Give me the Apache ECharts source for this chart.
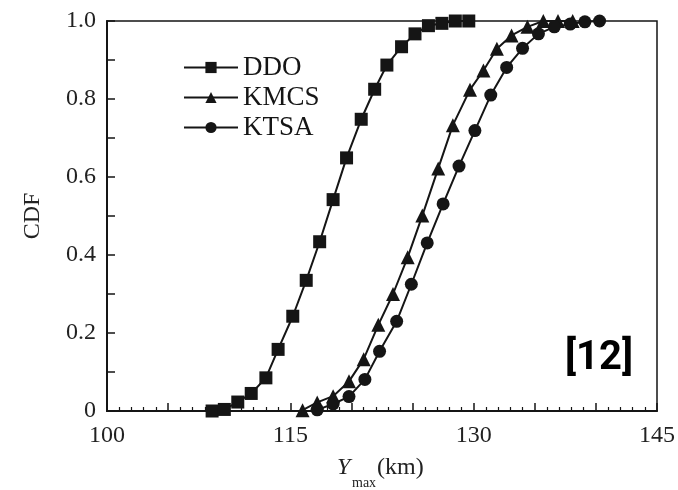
<!DOCTYPE html>
<html>
<head>
<meta charset="utf-8">
<script src="https://cdn.jsdelivr.net/npm/echarts@6/dist/echarts.min.js"></script>
<style>
html,body{margin:0;padding:0;background:#fff;}
#chart{width:678px;height:490px;}
</style>
</head>
<body>
<div id="chart"></div>
<script>
// ---- data ----
const seriesNames = ['DDO', 'KMCS', 'KTSA'];

const ddoX = [108.6,109.6,110.7,111.8,113.0,114.0,115.2,116.3,117.4,118.5,119.6,120.8,121.9,122.9,124.1,125.2,126.3,127.4,128.5,129.6];
const ddoY = [0.0,0.004,0.023,0.045,0.085,0.158,0.243,0.335,0.434,0.542,0.649,0.748,0.825,0.887,0.934,0.967,0.988,0.994,1.0,1.0];

const kmcsX = [116.0,117.2,118.5,119.8,121.0,122.2,123.4,124.6,125.8,127.1,128.3,129.7,130.8,131.9,133.1,134.4,135.7,136.9,138.1];
const kmcsY = [0.002,0.022,0.038,0.076,0.133,0.221,0.300,0.394,0.501,0.622,0.733,0.824,0.873,0.929,0.963,0.985,1.0,1.0,1.0];

const ktsaX = [117.2,118.5,119.8,121.1,122.3,123.7,124.9,126.2,127.5,128.8,130.1,131.4,132.7,134.0,135.3,136.6,137.9,139.1,140.3];
const ktsaY = [0.003,0.018,0.037,0.081,0.153,0.230,0.325,0.431,0.531,0.628,0.719,0.810,0.881,0.930,0.967,0.985,0.992,0.998,1.0];

const xLabelValues = [100, 115, 130, 145];
const yLabelValues = [0, 0.2, 0.4, 0.6, 0.8, 1.0];

// ---- chart ----
const serif = '"Liberation Serif", "DejaVu Serif", serif';
const ink = '#151515';
const pair = (xs, ys) => xs.map((x, i) => [x, ys[i]]);

const chart = echarts.init(document.getElementById('chart'), null, {renderer: 'canvas'});

const mk = (name, xs, ys, symbol, size) => ({
  name: name,
  type: 'line',
  data: pair(xs, ys),
  symbol: symbol,
  symbolSize: size,
  showSymbol: true,
  lineStyle: {color: ink, width: 2},
  itemStyle: {color: ink, borderWidth: 0},
  emphasis: {disabled: true},
  animation: false,
  z: 3
});

chart.setOption({
  backgroundColor: '#fff',
  animation: false,
  grid: {left: 107, right: 21, top: 21, bottom: 79, outerBoundsMode: 'none', containLabel: false,
         show: true, borderColor: ink, borderWidth: 1.5, backgroundColor: 'transparent'},
  legend: {
    data: seriesNames.map(n => ({name: n})),
    orient: 'vertical',
    left: 178,
    top: 49,
    itemWidth: 54,
    itemHeight: 14,
    itemGap: 3,
    textStyle: {fontFamily: serif, fontSize: 27, color: ink, padding: [0, 0, 0, 0]},
    itemStyle: {color: ink},
    lineStyle: {color: ink, width: 2},
    selectedMode: false
  },
  xAxis: {
    type: 'value',
    min: 100, max: 145, interval: 5,
    axisLine: {show: true, lineStyle: {color: ink, width: 2}},
    axisTick: {show: true, inside: true, length: 8, lineStyle: {color: ink, width: 1.5}},
    minorTick: {show: true, splitNumber: 5, length: 4, lineStyle: {color: ink, width: 1.2}},
    splitLine: {show: false},
    axisLabel: {
      margin: 13,
      fontFamily: serif, fontSize: 24, color: '#222',
      formatter: v => xLabelValues.indexOf(v) >= 0 ? String(v) : ''
    }
  },
  yAxis: {
    type: 'value',
    min: 0, max: 1, interval: 0.1,
    axisLine: {show: true, lineStyle: {color: ink, width: 2}},
    axisTick: {show: true, inside: true, length: 8, lineStyle: {color: ink, width: 1.5}},
    splitLine: {show: false},
    axisLabel: {
      margin: 11,
      fontFamily: serif, fontSize: 24, color: '#222',
      formatter: v => {
        const m = yLabelValues.find(t => Math.abs(t - v) < 1e-6);
        if (m === undefined) return '';
        return m === 0 ? '0' : m.toFixed(1);
      }
    }
  },
  series: [
    mk('DDO', ddoX, ddoY, 'rect', 13),
    mk('KMCS', kmcsX, kmcsY, 'triangle', 14),
    mk('KTSA', ktsaX, ktsaY, 'circle', 13)
  ],
  graphic: [
    {type: 'text', x: 33, y: 216, rotation: Math.PI / 2,
     style: {text: 'CDF', fontFamily: serif, fontSize: 24, fill: '#222', align: 'center', verticalAlign: 'middle'}},
    {type: 'text', x: 337, y: 456, style: {text: 'Y', fontFamily: serif, fontSize: 24, fontStyle: 'italic', fill: '#222'}},
    {type: 'text', x: 352, y: 476, style: {text: 'max', fontFamily: serif, fontSize: 14, fill: '#222'}},
    {type: 'text', x: 377, y: 456, style: {text: '(km)', fontFamily: serif, fontSize: 24, fill: '#222'}},
    {type: 'text', x: 565, y: 339, style: {text: '[12]', fontFamily: 'Roboto, sans-serif', fontSize: 40, fontWeight: 'bold', fill: '#000'}}
  ]
});
</script>
</body>
</html>
